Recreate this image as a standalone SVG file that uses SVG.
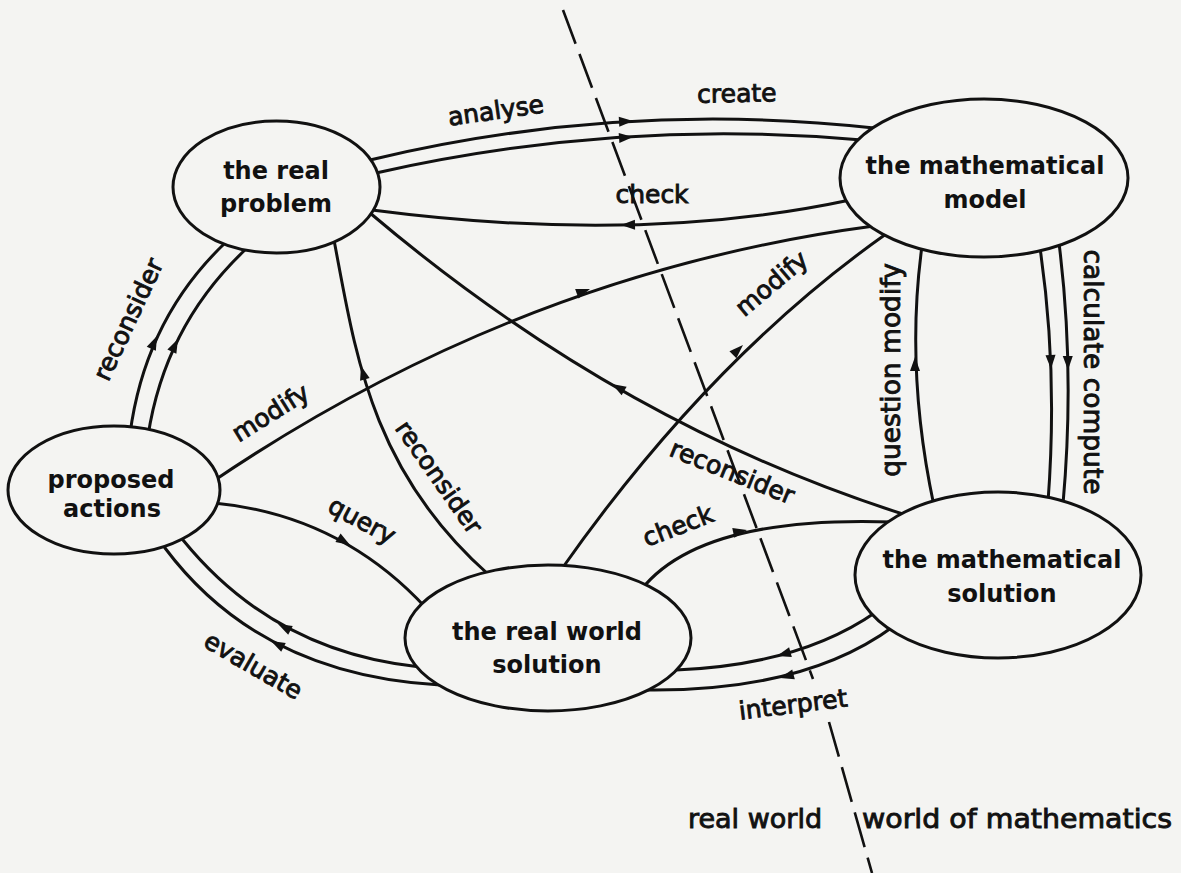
<svg xmlns="http://www.w3.org/2000/svg" xmlns:xlink="http://www.w3.org/1999/xlink" width="1181" height="873" viewBox="0 0 1181 873">
  <style>
    .edge { fill: none; stroke: #111; stroke-width: 3; stroke-linecap: round; }
    .divider { fill: none; stroke: #111; stroke-width: 2.6; stroke-dasharray: 36 11; }
    .node ellipse { fill: #f4f4f2; stroke: #111; stroke-width: 3; }
    .nt { font-family: "DejaVu Sans", "Liberation Sans", sans-serif; font-weight: bold; font-size: 24px; text-anchor: middle; fill: #111; }
    .lbl { font-family: "DejaVu Sans", "Liberation Sans", sans-serif; font-size: 25px; text-anchor: middle; fill: #111; stroke: #111; stroke-width: 0.9; }
    .big { font-size: 26.5px; }
    .zone { font-family: "DejaVu Sans", "Liberation Sans", sans-serif; font-size: 27px; text-anchor: middle; fill: #111; stroke: #111; stroke-width: 0.9; }
  </style>
  <defs>
    <path id="ah" d="M0,0 L-14,-5 L-14,5 Z" fill="#111"/>
  </defs>

  <rect width="1181" height="873" fill="#f4f4f2"/>

  <!-- boundary between the two worlds, broken where "interpret" sits -->
  <path class="divider" d="M563,10 L813,679"/>
  <path class="divider" d="M829,722 L872,873"/>

  <g id="connectors">
    <!-- analyse / create -->
    <path class="edge" d="M370,160 Q620,100 874,128"/>
    <path class="edge" d="M376,173 Q620,118 862,140"/>
    <use href="#ah" transform="translate(633,121) rotate(-3)"/>
    <use href="#ah" transform="translate(633,137) rotate(-4)"/>

    <!-- check: model back to problem -->
    <path class="edge" d="M850,200 Q640,245 372,210"/>
    <use href="#ah" transform="translate(621,225) rotate(179)"/>

    <!-- modify: proposed actions to model -->
    <path class="edge" d="M212,482 Q520,273 874,226"/>
    <use href="#ah" transform="translate(590,289) rotate(-20)"/>

    <!-- modify: real world solution to model -->
    <path class="edge" d="M561,570 Q709,359 886,234"/>
    <use href="#ah" transform="translate(743,345) rotate(-44)"/>

    <!-- reconsider: real world solution to problem -->
    <path class="edge" d="M334,240 C355,350 370,470 489,575"/>
    <use href="#ah" transform="translate(361,366) rotate(-106)"/>

    <!-- reconsider: mathematical solution to problem -->
    <path class="edge" d="M370,213 Q620,425 906,515"/>
    <use href="#ah" transform="translate(612,384) rotate(-150)"/>

    <!-- question modify -->
    <path class="edge" d="M934,506 Q905,370 922,246"/>
    <use href="#ah" transform="translate(915,357) rotate(-90)"/>

    <!-- calculate compute -->
    <path class="edge" d="M1040,248 Q1058,370 1048,502"/>
    <path class="edge" d="M1059,243 Q1075,370 1063,504"/>
    <use href="#ah" transform="translate(1051,369) rotate(88)"/>
    <use href="#ah" transform="translate(1068,370) rotate(89)"/>

    <!-- query -->
    <path class="edge" d="M214,503 Q340,515 426,608"/>
    <use href="#ah" transform="translate(350,545) rotate(31)"/>

    <!-- evaluate -->
    <path class="edge" d="M420,667 Q274,652 183,540"/>
    <path class="edge" d="M440,685 Q260,675 165,548"/>
    <use href="#ah" transform="translate(278,624) rotate(207)"/>
    <use href="#ah" transform="translate(271,641) rotate(207)"/>

    <!-- reconsider: proposed actions to problem -->
    <path class="edge" d="M130,434 Q145,320 224,244"/>
    <path class="edge" d="M148,436 Q165,325 246,249"/>
    <use href="#ah" transform="translate(157,336) rotate(-66)"/>
    <use href="#ah" transform="translate(178,339) rotate(-64)"/>

    <!-- check: real world solution to mathematical solution -->
    <path class="edge" d="M641,590 Q700,515 894,522"/>
    <use href="#ah" transform="translate(747,530) rotate(-12)"/>

    <!-- interpret -->
    <path class="edge" d="M876,612 Q800,665 676,670"/>
    <path class="edge" d="M894,626 Q805,692 645,690"/>
    <use href="#ah" transform="translate(777,656) rotate(164)"/>
    <use href="#ah" transform="translate(780,678) rotate(165)"/>

    <!-- connector labels -->
    <text class="lbl" transform="translate(497,119) rotate(-8)">analyse</text>
    <text class="lbl" transform="translate(737,102) rotate(-1)">create</text>
    <text class="lbl" transform="translate(652,203)">check</text>
    <text class="lbl" transform="translate(136,323) rotate(-65)">reconsider</text>
    <text class="lbl" transform="translate(275,420) rotate(-32)">modify</text>
    <text class="lbl" transform="translate(358,528) rotate(28)">query</text>
    <text class="lbl" transform="translate(432,482) rotate(55)">reconsider</text>
    <text class="lbl" transform="translate(249,673) rotate(30)">evaluate</text>
    <text class="lbl" transform="translate(777,290) rotate(-40)">modify</text>
    <text class="lbl" transform="translate(729,480) rotate(22)">reconsider</text>
    <text class="lbl" transform="translate(681,534) rotate(-21)">check</text>
    <text class="lbl" transform="translate(794,713) rotate(-7)">interpret</text>
    <text class="lbl big" transform="translate(900,370) rotate(-90)">question modify</text>
    <text class="lbl big" transform="translate(1084,372) rotate(90)">calculate compute</text>
  </g>

  <g id="node-real-problem" class="node">
    <ellipse cx="276.5" cy="187" rx="103.5" ry="66"/>
    <text class="nt" x="276" y="179">the real</text>
    <text class="nt" x="276" y="212">problem</text>
  </g>

  <g id="node-mathematical-model" class="node">
    <ellipse cx="984" cy="178" rx="144" ry="79"/>
    <text class="nt" x="985" y="174">the mathematical</text>
    <text class="nt" x="985" y="208">model</text>
  </g>

  <g id="node-proposed-actions" class="node">
    <ellipse cx="114" cy="490" rx="106" ry="64"/>
    <text class="nt" x="111" y="488">proposed</text>
    <text class="nt" x="112" y="517">actions</text>
  </g>

  <g id="node-real-world-solution" class="node">
    <ellipse cx="548" cy="638" rx="143" ry="73"/>
    <text class="nt" x="547" y="640">the real world</text>
    <text class="nt" x="547" y="673">solution</text>
  </g>

  <g id="node-mathematical-solution" class="node">
    <ellipse cx="998" cy="575" rx="143" ry="83"/>
    <text class="nt" x="1002" y="568">the mathematical</text>
    <text class="nt" x="1002" y="602">solution</text>
  </g>

  <g id="zones">
    <text class="zone" x="755" y="828">real world</text>
    <text class="zone" x="1017" y="828" textLength="310" lengthAdjust="spacingAndGlyphs">world of mathematics</text>
  </g>
</svg>
